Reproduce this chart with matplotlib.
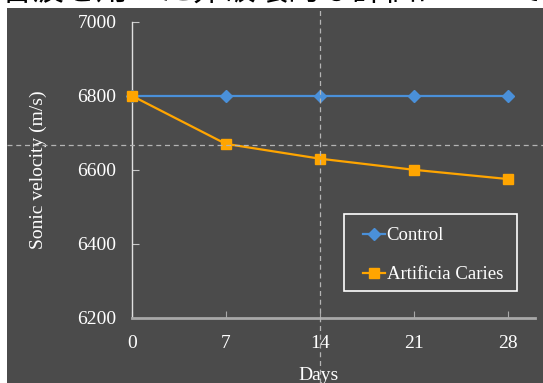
import matplotlib
matplotlib.use("Agg")
import matplotlib.pyplot as plt
from matplotlib.patches import Rectangle
from matplotlib.lines import Line2D

days = [0, 7, 14, 21, 28]
control = [6800, 6800, 6800, 6800, 6800]
caries = [6800, 6670, 6630, 6600, 6575]
x_ticks = [0, 7, 14, 21, 28]
y_ticks = [6200, 6400, 6600, 6800, 7000]
series_labels = ["Control", "Artificia Caries"]
title_text = "音波を用いた非破壊的な評価について観察"

W, H = 543, 383
fig = plt.figure(figsize=(W / 100, H / 100), dpi=100, facecolor="white")

def fx(px):
    return px / W

def fy(py):
    return 1 - py / H

bg = "#4b4b4b"
fig.patches.append(Rectangle((fx(7), 0), 1 - fx(7), fy(8), transform=fig.transFigure,
                             facecolor=bg, edgecolor="none", zorder=-5))

# Partially cropped heading at the top
fig.text(fx(0), fy(7), title_text, ha="left", va="bottom", fontsize=23, color="black",
         family=["Noto Sans CJK JP", "DejaVu Sans"])

left, right, top, bottom = 131.7, 535, 21.6, 318
ax = fig.add_axes([fx(left), fy(bottom), fx(right) - fx(left), fy(top) - fy(bottom)])
ax.set_zorder(2)
ax.set_facecolor("none")
ax.set_xlim(0, 30)
ax.set_ylim(6200, 7000)

serif = "Liberation Serif"
ax.plot(days, control, color="#4a90d9", lw=1.6, marker="D", ms=6.5, label=series_labels[0],
        zorder=3, clip_on=False)
ax.plot(days, caries, color="#ffa500", lw=1.6, marker="s", ms=7, label=series_labels[1],
        zorder=4, clip_on=False)

ax.set_xticks(x_ticks)
ax.set_yticks(y_ticks)
ax.tick_params(axis="both", direction="in", length=5, labelsize=14, labelcolor="white",
               colors="#c8c8c8")
ax.tick_params(axis="x", pad=12, color="#a8a8a8")
ax.tick_params(axis="y", pad=11)
for lab in ax.get_xticklabels() + ax.get_yticklabels():
    lab.set_family(serif)
    lab.set_color("white")

for s in ["top", "right"]:
    ax.spines[s].set_visible(False)
ax.spines["left"].set_color("#e0e0e0")
ax.spines["left"].set_linewidth(1.0)
ax.spines["bottom"].set_color("#a8a8a8")
ax.spines["bottom"].set_linewidth(2.0)

fig.text(fx(38), fy(170), "Sonic velocity (m/s)", rotation=90, ha="center", va="center",
         fontsize=14, color="white", family=serif)
fig.text(fx(319), fy(375), "Days", ha="center", va="center", fontsize=14, color="white",
         family=serif)

# Legend frame drawn separately, legend entries placed inside
fig.patches.append(Rectangle((fx(344), fy(291)), fx(517) - fx(344), fy(214) - fy(291),
                             transform=fig.transFigure, facecolor="none", edgecolor="white",
                             lw=1.2, zorder=5))
leg = ax.legend(loc="upper left", bbox_to_anchor=(fx(352), fy(216)),
                bbox_transform=fig.transFigure, borderaxespad=0, frameon=False,
                prop={"family": serif, "size": 13.5}, handlelength=1.15,
                handletextpad=0.1, labelspacing=1.15, borderpad=0.6)
for t in leg.get_texts():
    t.set_color("white")

# Cursor crosshair (dashed)
fig.add_artist(Line2D([fx(320), fx(320)], [0, fy(8)], transform=fig.transFigure,
                      color="#b4b4b4", lw=0.9, ls=(0, (4, 3)), zorder=10))
fig.add_artist(Line2D([fx(7), 1], [fy(145.4), fy(145.4)], transform=fig.transFigure,
                      color="#b4b4b4", lw=0.9, ls=(0, (4, 3)), zorder=10))

fig.savefig("out.png", dpi=100, facecolor="white")
